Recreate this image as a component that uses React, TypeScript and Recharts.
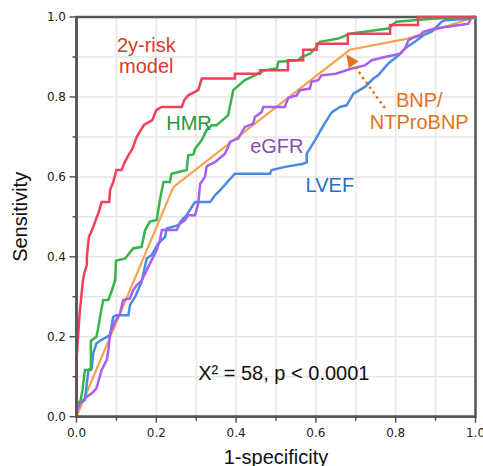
import { LineChart, Line, XAxis, YAxis, CartesianGrid, ReferenceArea, ReferenceDot, ReferenceLine } from "recharts";

// ROC curves, [1-specificity, sensitivity]
const riskModel: [number, number][] = [
  [0, 0], [0, 0.14], [0.004, 0.2], [0.008, 0.26], [0.012, 0.3], [0.016, 0.34], [0.02, 0.36], [0.026, 0.38],
  [0.026, 0.4], [0.031, 0.45], [0.036, 0.46], [0.042, 0.475], [0.05, 0.497], [0.055, 0.51], [0.063, 0.537],
  [0.082, 0.537], [0.084, 0.567], [0.092, 0.587], [0.1, 0.617], [0.113, 0.617], [0.12, 0.635], [0.13, 0.654],
  [0.14, 0.67], [0.151, 0.7], [0.16, 0.715], [0.169, 0.73], [0.19, 0.742], [0.2, 0.767], [0.213, 0.775],
  [0.264, 0.775], [0.27, 0.792], [0.28, 0.804], [0.305, 0.817], [0.314, 0.846], [0.397, 0.846], [0.397, 0.858],
  [0.46, 0.858], [0.46, 0.867], [0.53, 0.867], [0.53, 0.892], [0.568, 0.892], [0.568, 0.918], [0.602, 0.918],
  [0.602, 0.933], [0.68, 0.933], [0.68, 0.958], [0.786, 0.958], [0.786, 0.98], [0.856, 0.98], [0.856, 1], [1, 1],
];

const hmr: [number, number][] = [
  [0, 0], [0, 0.03], [0.01, 0.04], [0.015, 0.067], [0.021, 0.117], [0.036, 0.117], [0.036, 0.19], [0.05, 0.2],
  [0.055, 0.225], [0.059, 0.25], [0.067, 0.292], [0.08, 0.292], [0.089, 0.317], [0.097, 0.342], [0.099, 0.39],
  [0.122, 0.396], [0.142, 0.421], [0.163, 0.425], [0.172, 0.467], [0.184, 0.488], [0.201, 0.492], [0.209, 0.542],
  [0.218, 0.587], [0.234, 0.587], [0.238, 0.608], [0.276, 0.617], [0.28, 0.654], [0.293, 0.656], [0.297, 0.67],
  [0.314, 0.692], [0.326, 0.717], [0.339, 0.729], [0.351, 0.729], [0.38, 0.754], [0.393, 0.817], [0.422, 0.842],
  [0.447, 0.854], [0.472, 0.867], [0.502, 0.871], [0.506, 0.888], [0.556, 0.892], [0.564, 0.9], [0.585, 0.908],
  [0.598, 0.921], [0.61, 0.938], [0.656, 0.946], [0.685, 0.958], [0.781, 0.971], [0.802, 0.988], [0.898, 0.996],
  [1, 1],
];

const bnp: [number, number][] = [
  [0, 0], [0.243, 0.575], [0.685, 0.918], [0.83, 0.946], [1, 1],
];

const egfr: [number, number][] = [
  [0, 0], [0, 0.013], [0.009, 0.033], [0.026, 0.05], [0.04, 0.06], [0.05, 0.071], [0.063, 0.117], [0.076, 0.142],
  [0.08, 0.167], [0.084, 0.208], [0.092, 0.225], [0.096, 0.237], [0.109, 0.258], [0.117, 0.292], [0.134, 0.296],
  [0.142, 0.317], [0.151, 0.329], [0.163, 0.34], [0.184, 0.383], [0.201, 0.417], [0.209, 0.442], [0.214, 0.467],
  [0.251, 0.467], [0.259, 0.483], [0.272, 0.492], [0.28, 0.504], [0.297, 0.504], [0.305, 0.533], [0.31, 0.583],
  [0.322, 0.6], [0.326, 0.625], [0.33, 0.629], [0.347, 0.637], [0.372, 0.658], [0.38, 0.675], [0.385, 0.688],
  [0.405, 0.696], [0.422, 0.725], [0.443, 0.733], [0.447, 0.75], [0.464, 0.762], [0.468, 0.775], [0.522, 0.775],
  [0.531, 0.798], [0.552, 0.804], [0.56, 0.817], [0.585, 0.821], [0.589, 0.838], [0.606, 0.842], [0.614, 0.854],
  [0.65, 0.858], [0.69, 0.871], [0.723, 0.879], [0.74, 0.892], [0.773, 0.9], [0.811, 0.908], [0.823, 0.921],
  [0.832, 0.942], [0.848, 0.95], [0.861, 0.954], [0.869, 0.963], [0.898, 0.971], [0.982, 0.983], [0.99, 1], [1, 1],
];

const lvef: [number, number][] = [
  [0, 0], [0, 0.01], [0.005, 0.03], [0.021, 0.042], [0.03, 0.117], [0.038, 0.121], [0.042, 0.159], [0.05, 0.183],
  [0.059, 0.19], [0.084, 0.204], [0.092, 0.25], [0.1, 0.254], [0.13, 0.254], [0.134, 0.279], [0.147, 0.3],
  [0.163, 0.337], [0.176, 0.396], [0.188, 0.404], [0.205, 0.433], [0.222, 0.45], [0.226, 0.471], [0.255, 0.479],
  [0.264, 0.492], [0.276, 0.504], [0.297, 0.537], [0.335, 0.537], [0.347, 0.554], [0.36, 0.567], [0.397, 0.608],
  [0.485, 0.608], [0.489, 0.617], [0.523, 0.625], [0.568, 0.633], [0.577, 0.637], [0.577, 0.658], [0.598, 0.692],
  [0.619, 0.729], [0.64, 0.762], [0.66, 0.775], [0.677, 0.779], [0.694, 0.808], [0.723, 0.825], [0.744, 0.846],
  [0.756, 0.854], [0.781, 0.883], [0.807, 0.904], [0.828, 0.925], [0.848, 0.938], [0.869, 0.954], [0.89, 0.963],
  [0.915, 0.988], [0.924, 0.992], [0.99, 0.996], [1, 1],
];

const axisTicks = [0, 0.1, 0.2, 0.3, 0.4, 0.5, 0.6, 0.7, 0.8, 0.9, 1.0];
const tickLabels = ["0.0", "", "0.2", "", "0.4", "", "0.6", "", "0.8", "", "1.0"];

const toPoints = (pts: [number, number][]) => pts.map(([x, y]) => ({ x, y }));

const notes = [
  { x: 0.175, y: 0.913, text: "2y-risk", color: "#d83a2c", anchor: "middle" },
  { x: 0.175, y: 0.859, text: "model", color: "#d83a2c", anchor: "middle" },
  { x: 0.282, y: 0.717, text: "HMR", color: "#1f9a3b", anchor: "middle" },
  { x: 0.502, y: 0.66, text: "eGFR", color: "#8a4cb3", anchor: "middle" },
  { x: 0.635, y: 0.5625, text: "LVEF", color: "#2070c6", anchor: "middle" },
  { x: 0.859, y: 0.775, text: "BNP/", color: "#e2711d", anchor: "middle" },
  { x: 0.859, y: 0.721, text: "NTProBNP", color: "#e2711d", anchor: "middle" },
  { x: 0.305, y: 0.092, text: "Χ² = 58, p < 0.0001", color: "#111", anchor: "start" },
];

const FONT = "'Liberation Sans', Arial, sans-serif";

function XTick(props: any) {
  const { x, y, index } = props;
  const major = index % 2 === 0;
  return (
    <g>
      <line x1={x} x2={x} y1={y} y2={y + (major ? 6 : 4)} stroke="#555" strokeWidth={1.5} />
      {major && (
        <text x={x} y={y + 20} textAnchor="middle" fontFamily="'DejaVu Sans'" fontSize={12} fill="#222">
          {tickLabels[index]}
        </text>
      )}
    </g>
  );
}

function YTick(props: any) {
  const { x, y, index } = props;
  const major = index % 2 === 0;
  return (
    <g>
      <line x1={x - (major ? 7 : 4)} x2={x} y1={y} y2={y} stroke="#555" strokeWidth={1.5} />
      {major && (
        <text x={x - 10.5} y={y + 4.3} textAnchor="end" fontFamily="'DejaVu Sans'" fontSize={12} fill="#222">
          {tickLabels[index]}
        </text>
      )}
    </g>
  );
}

export default function App() {
  return (
    <div style={{ background: "#fff" }}>
      <style>{`body{margin:0}`}</style>
      <LineChart width={483} height={466} margin={{ top: 17, right: 7.5, bottom: 0, left: 0 }}>
        <CartesianGrid stroke="#e6e6e6" strokeWidth={1.5} />
        <XAxis
          type="number"
          dataKey="x"
          domain={[0, 1]}
          ticks={axisTicks}
          interval={0}
          height={49.3}
          tickSize={0}
          tickMargin={0}
          axisLine={{ stroke: "#555", strokeWidth: 2.5 }}
          tick={<XTick />}
          label={{ value: "1-specificity", position: "insideBottom", offset: 2.5, fontSize: 20, fill: "#111", fontFamily: FONT }}
        />
        <YAxis
          type="number"
          dataKey="y"
          domain={[0, 1]}
          ticks={axisTicks}
          interval={0}
          width={76.5}
          tickSize={0}
          tickMargin={0}
          axisLine={{ stroke: "#555", strokeWidth: 2.5 }}
          tick={<YTick />}
          label={{ value: "Sensitivity", angle: -90, position: "insideLeft", offset: 20, fontSize: 20, fill: "#111", fontFamily: FONT, style: { textAnchor: "middle" } }}
        />
        <ReferenceArea x1={0} x2={1} y1={0} y2={1} fill="none" stroke="#555" strokeWidth={2.5} />
        <Line data={toPoints(bnp)} dataKey="y" stroke="#f7a24f" strokeWidth={2.2} dot={false} isAnimationActive={false} />
        <Line data={toPoints(lvef)} dataKey="y" stroke="#4a8be0" strokeWidth={2.5} dot={false} isAnimationActive={false} />
        <Line data={toPoints(egfr)} dataKey="y" stroke="#a65ef5" strokeWidth={2.5} dot={false} isAnimationActive={false} />
        <Line data={toPoints(hmr)} dataKey="y" stroke="#38b44a" strokeWidth={2.5} dot={false} isAnimationActive={false} />
        <Line data={toPoints(riskModel)} dataKey="y" stroke="#f0405a" strokeWidth={2.5} dot={false} isAnimationActive={false} />
        <ReferenceLine
          segment={[{ x: 0.773, y: 0.772 }, { x: 0.692, y: 0.884 }]}
          stroke="#e2711d"
          strokeWidth={2.5}
          strokeDasharray="2.5 3.5"
        />
        <ReferenceDot
          x={0.676}
          y={0.907}
          r={0}
          shape={(p: any) => (
            <polygon
              points={`${p.cx},${p.cy} ${p.cx + 12.4},${p.cy + 7.2} ${p.cx + 2.6},${p.cy + 14.1}`}
              fill="#e2711d"
            />
          )}
        />
        {notes.map((n) => (
          <ReferenceDot
            key={n.text}
            x={n.x}
            y={n.y}
            r={0}
            shape={(p: any) => (
              <text x={p.cx} y={p.cy} textAnchor={n.anchor} fontFamily={FONT} fontSize={20} fill={n.color}>
                {n.text}
              </text>
            )}
          />
        ))}
      </LineChart>
    </div>
  );
}
